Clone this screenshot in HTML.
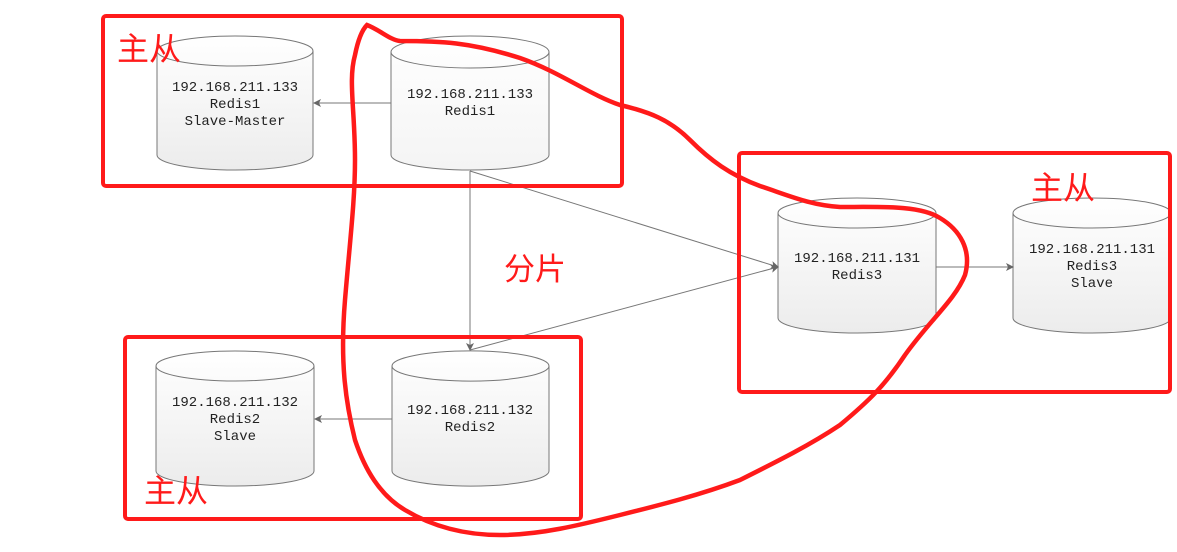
<!DOCTYPE html>
<html><head><meta charset="utf-8"><style>
html,body{margin:0;padding:0;background:#fff;}
svg{display:block;}
.t{font-family:"Liberation Mono","Noto Sans CJK SC",monospace;font-size:14px;fill:#222;text-anchor:middle;}
.r{font-family:"Liberation Sans","Noto Sans CJK SC",sans-serif;fill:#ff1a1a;}
</style></head><body>
<svg width="1177" height="552" viewBox="0 0 1177 552" xmlns="http://www.w3.org/2000/svg">
<defs>
<linearGradient id="g" x1="0" y1="0" x2="0" y2="1"><stop offset="0" stop-color="#fff"/><stop offset="1" stop-color="#ececec"/></linearGradient>
<linearGradient id="g2" x1="0" y1="0" x2="0" y2="1"><stop offset="0" stop-color="#fff"/><stop offset="1" stop-color="#f4f4f4"/></linearGradient>
<marker id="a" markerWidth="8" markerHeight="8" refX="7" refY="4" orient="auto" markerUnits="userSpaceOnUse"><path d="M0,0 L8,4 L0,8 L2,4 z" fill="#666"/></marker>
</defs>
<rect width="1177" height="552" fill="#fff"/>
<g stroke="#777" stroke-width="1">
<path d="M157,51 A78,15 0 0 1 313,51 L313,155 A78,15 0 0 1 157,155 Z" fill="url(#g)"/>
<path d="M157,51 A78,15 0 0 0 313,51" fill="none"/>
<path d="M391,52 A79,16 0 0 1 549,52 L549,155 A79,15 0 0 1 391,155 Z" fill="url(#g2)"/>
<path d="M391,52 A79,16 0 0 0 549,52" fill="none"/>
<path d="M156,366 A79,15 0 0 1 314,366 L314,471 A79,15 0 0 1 156,471 Z" fill="url(#g)"/>
<path d="M156,366 A79,15 0 0 0 314,366" fill="none"/>
<path d="M392,366 A78,15 0 0 1 549,366 L549,471 A78,15 0 0 1 392,471 Z" fill="url(#g)"/>
<path d="M392,366 A78,15 0 0 0 549,366" fill="none"/>
<path d="M778,213 A79,15 0 0 1 936,213 L936,318 A79,15 0 0 1 778,318 Z" fill="url(#g)"/>
<path d="M778,213 A79,15 0 0 0 936,213" fill="none"/>
<path d="M1013,213 A79,15 0 0 1 1171,213 L1171,318 A79,15 0 0 1 1013,318 Z" fill="url(#g)"/>
<path d="M1013,213 A79,15 0 0 0 1171,213" fill="none"/>
</g>
<g stroke="#777" stroke-width="1" fill="none" marker-end="url(#a)">
<line x1="391" y1="103" x2="314" y2="103"/>
<line x1="470" y1="171" x2="470" y2="350"/>
<line x1="470" y1="171" x2="778" y2="267"/>
<line x1="470" y1="350" x2="778" y2="267"/>
<line x1="936" y1="267" x2="1013" y2="267"/>
<line x1="392" y1="419" x2="315" y2="419"/>
</g>
<text class="t" x="235" y="91">192.168.211.133</text>
<text class="t" x="235" y="108">Redis1</text>
<text class="t" x="235" y="125">Slave-Master</text>
<text class="t" x="470" y="98">192.168.211.133</text>
<text class="t" x="470" y="115">Redis1</text>
<text class="t" x="235" y="406">192.168.211.132</text>
<text class="t" x="235" y="423">Redis2</text>
<text class="t" x="235" y="440">Slave</text>
<text class="t" x="470" y="414">192.168.211.132</text>
<text class="t" x="470" y="431">Redis2</text>
<text class="t" x="857" y="262">192.168.211.131</text>
<text class="t" x="857" y="279">Redis3</text>
<text class="t" x="1092" y="253">192.168.211.131</text>
<text class="t" x="1092" y="270">Redis3</text>
<text class="t" x="1092" y="287">Slave</text>
<g stroke="#ff1a1a" stroke-width="4" fill="none">
<rect x="103" y="16" width="519" height="170" rx="3"/>
<rect x="739" y="153" width="431" height="239" rx="3"/>
<rect x="125" y="337" width="456" height="182" rx="3"/>
<path stroke-width="4.5" d="M367,25 C380,30 390,40 400,41 C440,41 470,42 520,58 C560,72 590,95 620,105 C650,112 670,120 690,140 C710,160 730,175 760,186 C790,196 810,205 840,207 C880,207 920,205 940,218 C960,230 972,250 965,275 C955,300 930,320 905,355 C885,385 870,400 840,425 C810,445 780,460 740,480 C700,495 660,505 620,515 C580,525 540,535 500,535 C460,535 430,525 405,510 C380,495 365,470 355,440 C345,400 340,360 345,300 C350,240 355,200 355,160 C355,110 348,80 355,55 C358,40 362,30 367,25 Z"/>
</g>
<text class="r" x="117" y="60" font-size="32">主从</text>
<text class="r" x="1031" y="199" font-size="32">主从</text>
<text class="r" x="144" y="502" font-size="32">主从</text>
<text class="r" x="504" y="280" font-size="31">分片</text>
</svg>
</body></html>
